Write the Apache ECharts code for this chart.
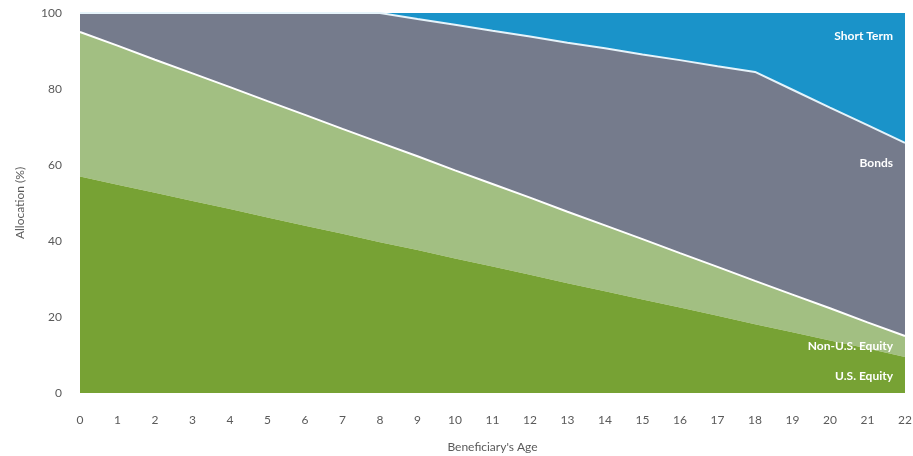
<!DOCTYPE html>
<html>
<head>
<meta charset="utf-8">
<script src="https://cdn.jsdelivr.net/npm/echarts@6/dist/echarts.min.js"></script>
<style>
  html, body { margin: 0; padding: 0; background: #ffffff; }
  #chart { width: 913px; height: 456px; }
</style>
</head>
<body>
<div id="chart"></div>
<script>
// Beneficiary's age on the horizontal axis
const ages = ['0','1','2','3','4','5','6','7','8','9','10','11','12','13','14','15','16','17','18','19','20','21','22'];

// Allocation (%) per asset class, stacked from the bottom up
const usEquity    = [57, 54.8, 52.7, 50.5, 48.4, 46.2, 44.0, 41.9, 39.7, 37.6, 35.4, 33.3, 31.1, 28.9, 26.8, 24.6, 22.5, 20.3, 18.1, 16.0, 13.8, 11.7, 9.5];
const nonUsEquity = [38, 36.6, 35.0, 33.6, 32.1, 30.6, 29.2, 27.6, 26.2, 24.7, 23.2, 21.7, 20.3, 18.8, 17.3, 15.9, 14.3, 12.9, 11.4, 9.9, 8.5, 6.9, 5.5];
const bonds       = [5, 8.6, 12.3, 15.9, 19.5, 23.2, 26.8, 30.5, 34.1, 36.1, 38.3, 40.3, 42.4, 44.5, 46.6, 48.6, 50.8, 52.8, 55.0, 53.9, 52.8, 51.9, 50.8];
const shortTerm   = [0, 0, 0, 0, 0, 0, 0, 0, 0, 1.6, 3.1, 4.7, 6.2, 7.8, 9.3, 10.9, 12.4, 14.0, 15.5, 20.2, 24.9, 29.5, 34.2];

const yTicks = [0, 20, 40, 60, 80, 100];

const FONT = 'Lato, "Open Sans", sans-serif';
const chart = echarts.init(document.getElementById('chart'), null, { renderer: 'canvas' });

function areaSeries(name, data, color, lineColor, lineWidth, z) {
  return {
    name: name,
    type: 'line',
    stack: 'alloc',
    data: data,
    z: z,
    symbol: 'none',
    silent: true,
    lineStyle: { color: lineColor, width: lineWidth },
    areaStyle: { color: color, opacity: 1 },
    itemStyle: { color: color }
  };
}

chart.setOption({
  animation: false,
  backgroundColor: '#ffffff',
  grid: { left: 80, right: 8, top: 13, bottom: 63, containLabel: false, outerBoundsMode: 'none' },
  xAxis: {
    type: 'category',
    data: ages,
    boundaryGap: false,
    name: "Beneficiary's Age",
    nameLocation: 'middle',
    nameGap: 48,
    nameTextStyle: { color: '#5a5a5a', fontSize: 12, fontFamily: FONT },
    axisLine: { show: false },
    axisTick: { show: false },
    axisLabel: { color: '#5a5a5a', fontSize: 12, fontFamily: FONT, margin: 21, interval: 0 }
  },
  yAxis: {
    type: 'value',
    min: 0,
    max: 100,
    interval: 20,
    name: 'Allocation (%)',
    nameLocation: 'middle',
    nameGap: 54,
    nameTextStyle: { color: '#5a5a5a', fontSize: 12, fontFamily: FONT },
    axisLine: { show: false },
    axisTick: { show: false },
    splitLine: { show: false },
    axisLabel: {
      color: '#5a5a5a', fontSize: 12, fontFamily: FONT, margin: 18,
      formatter: v => (yTicks.indexOf(v) >= 0 ? String(v) : '')
    }
  },
  series: [
    areaSeries('U.S. Equity', usEquity, '#77a234', '#77a234', 0, 4),
    areaSeries('Non-U.S. Equity', nonUsEquity, '#a2bf82', '#ffffff', 2, 3),
    areaSeries('Bonds', bonds, '#757b8c', '#e6f4fb', 2, 2),
    areaSeries('Short Term', shortTerm, '#1a93c9', '#1a93c9', 0, 1)
  ],
  graphic: [
    { type: 'text', right: 20, top: 30, z: 10, style: { text: 'Short Term', fill: '#ffffff', font: 'bold 12px ' + FONT } },
    { type: 'text', right: 20, top: 157, z: 10, style: { text: 'Bonds', fill: '#ffffff', font: 'bold 12px ' + FONT } },
    { type: 'text', right: 20, top: 340, z: 10, style: { text: 'Non-U.S. Equity', fill: '#ffffff', font: 'bold 12px ' + FONT } },
    { type: 'text', right: 20, top: 370, z: 10, style: { text: 'U.S. Equity', fill: '#ffffff', font: 'bold 12px ' + FONT } }
  ]
});
</script>
</body>
</html>
